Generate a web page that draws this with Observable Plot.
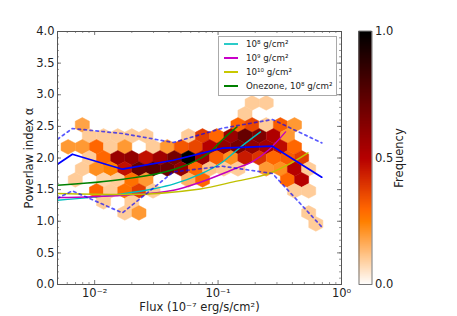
<!DOCTYPE html>
<html>
<head>
<meta charset="utf-8">
<script src="https://cdn.jsdelivr.net/npm/d3@7"></script>
<script src="https://cdn.jsdelivr.net/npm/@observablehq/plot@0.6"></script>
<style>
html,body{margin:0;padding:0;background:#fff;}
#wrap{position:relative;width:457px;height:316px;overflow:hidden;font-family:"DejaVu Sans",sans-serif;color:#222;}
#wrap svg{display:block;background:transparent;}
#bar{position:absolute;left:358px;top:0;}
#legend{position:absolute;left:218px;top:36px;width:117px;height:58px;background:#fff;border:1px solid #aaa;font-size:8.7px;}
#legend .row{position:absolute;left:0;right:0;height:12px;white-space:nowrap;}
#legend .swatch{position:absolute;left:5px;top:5px;width:14px;height:2px;}
#legend .lab{position:absolute;left:27px;top:0;line-height:12px;}
</style>
</head>
<body>
<div id="wrap"></div>
<script>
// Hexbin rows: alpha of each row, log10(flux) of each cell, normalised frequency of each cell
const hexAlpha = [2.871, 2.697, 2.523, 2.349, 2.176, 2.002, 1.828, 1.654, 1.480, 1.306, 1.132, 0.958];
const hexLogFlux = [
  [-0.724, -0.610],
  [-0.782],
  [-2.100, -0.839, -0.724, -0.610, -0.495, -0.381],
  [-2.043, -1.928, -1.813, -1.699, -1.584, -1.240, -1.126, -1.011, -0.896, -0.782, -0.667, -0.552, -0.438],
  [-2.215, -2.100, -1.985, -1.871, -1.756, -1.527, -1.412, -1.298, -1.183, -1.068, -0.954, -0.839, -0.724, -0.610, -0.495, -0.381],
  [-2.043, -1.928, -1.813, -1.699, -1.584, -1.470, -1.355, -1.240, -1.126, -1.011, -0.896, -0.782, -0.667, -0.552, -0.438, -0.323],
  [-2.100, -1.985, -1.871, -1.756, -1.641, -1.527, -1.412, -1.298, -1.183, -1.068, -0.954, -0.839, -0.610, -0.495, -0.381, -0.266],
  [-2.157, -1.928, -1.813, -1.699, -1.584, -1.240, -1.126, -0.438, -0.323],
  [-1.985, -1.871, -1.756, -1.641, -1.527, -0.381, -0.266],
  [-1.928, -1.699],
  [-1.756, -1.641, -0.266],
  [-0.208]
];
const hexFreq = [
  [.1, .1],
  [.1],
  [.18, .3, .36, .1, .32, .2],
  [.1, .1, .1, .1, .1, .1, .38, .3, .58, .72, .65, .52, .2],
  [.2, .2, .3, .1, .2, .1, .2, .33, .36, .5, .6, .68, .6, .55, .48, .3],
  [.1, .3, .58, .6, .47, .56, .68, 1.0, .58, .32, .22, .45, .4, .3, .32, .38],
  [.1, .22, .25, .47, .72, .75, .7, .6, .3, .12, .1, .1, .2, .22, .5, .1],
  [.1, .08, .1, .28, .2, .15, .3, .3, .5],
  [.3, .1, .28, .38, .1, .1, .1],
  [.1, .1],
  [.1, .2, .1],
  [.1]
];

// Median and spread of the observed burst tracks
const trackFlux = [0.005, 0.0066, 0.0168, 0.0434, 0.1084, 0.276, 0.692];
const medianAlpha = [1.902, 2.060, 1.823, 1.965, 2.155, 2.187, 1.696];
const upperAlpha = [2.297, 2.466, 2.387, 2.245, 2.471, 2.609, 2.239];
const lowerAlpha = [1.364, 1.480, 1.132, 1.780, 1.870, 1.755, 0.911];

// Model curves
const cyanFlux = [0.005, 0.0161, 0.0309, 0.0434, 0.0718, 0.1045, 0.1517, 0.2208];
const cyanAlpha = [1.333, 1.428, 1.518, 1.586, 1.744, 1.913, 2.171, 2.413];
const magentaFlux = [0.005, 0.0170, 0.0436, 0.0718, 0.1383, 0.1888, 0.2564, 0.3524];
const magentaAlpha = [1.375, 1.412, 1.491, 1.617, 1.834, 1.939, 2.125, 2.413];
const yellowFlux = [0.005, 0.0170, 0.0718, 0.1331, 0.2661, 0.3639, 0.5358];
const yellowAlpha = [1.439, 1.423, 1.510, 1.622, 1.764, 1.886, 2.081];
const greenFlux = [0.005, 0.0170, 0.0436, 0.0718, 0.0865, 0.1109, 0.1425];
const greenAlpha = [1.570, 1.665, 1.818, 1.992, 2.096, 2.308, 2.492];

const legendLabels = ["10⁸ g/cm²", "10⁹ g/cm²", "10¹⁰ g/cm²", "Onezone, 10⁸ g/cm²"];
const legendColors = ["#2bcbc8", "#c800c8", "#c8c800", "#008000"];
const legendRows = [1, 15, 29, 43];

const xMajor = [0.01, 0.1, 1];
const xMajorLabels = ["10⁻²", "10⁻¹", "10⁰"];
const xMinor = [0.006, 0.007, 0.008, 0.009, 0.02, 0.03, 0.04, 0.05, 0.06, 0.07, 0.08, 0.09, 0.2, 0.3, 0.4, 0.5, 0.6, 0.7, 0.8, 0.9];
const yMajor = [0, 0.5, 1, 1.5, 2, 2.5, 3, 3.5, 4];
const yMinor = d3.range(0, 40).map(d => d / 10);
const barTicks = [0, 0.5, 1];

// gist_heat reversed
function heat(v) {
  const t = 1 - v;
  const r = Math.min(1, t / 0.7), g = Math.max(0, 2 * t - 1), b = Math.max(0, 4 * t - 3);
  return d3.rgb(r * 255, g * 255, b * 255).formatHex();
}

const hexes = hexAlpha.flatMap((alpha, i) =>
  hexLogFlux[i].map((lx, j) => ({flux: Math.pow(10, lx), alpha, freq: hexFreq[i][j]})));

const hexSymbol = {
  draw(ctx, size) {
    const rx = Math.sqrt(size / Math.PI), ry = rx * 1.04, hy = ry / 2;
    ctx.moveTo(0, ry); ctx.lineTo(rx, hy); ctx.lineTo(rx, -hy);
    ctx.lineTo(0, -ry); ctx.lineTo(-rx, -hy); ctx.lineTo(-rx, hy); ctx.closePath();
  }
};

const zip = (xs, ys) => xs.map((x, i) => ({x, y: ys[i]}));
const line = (xs, ys, o) => Plot.line(zip(xs, ys), {x: "x", y: "y", clip: true, ...o});
const W = 284, H = 253, ink = "#555";
const textStyle = {fontFamily: "DejaVu Sans", fontSize: "11.5px", color: "#222", background: "transparent"};

const main = Plot.plot({
  width: 457, height: 316,
  marginLeft: 57, marginRight: 116, marginTop: 31, marginBottom: 32,
  style: textStyle,
  x: {type: "log", domain: [0.005, 1]},
  y: {domain: [0, 4]},
  color: {type: "linear", domain: [0, 1], interpolate: heat},
  marks: [
    Plot.dot(hexes, {x: "flux", y: "alpha", r: 7.05, symbol: hexSymbol, fill: "freq", stroke: "freq", strokeWidth: 0.5}),
    line(cyanFlux, cyanAlpha, {stroke: "#00c0c0", strokeWidth: 1.4, curve: "monotone-x"}),
    line(magentaFlux, magentaAlpha, {stroke: "#c000c0", strokeWidth: 1.4, curve: "monotone-x"}),
    line(yellowFlux, yellowAlpha, {stroke: "#c0c000", strokeWidth: 1.4, curve: "monotone-x"}),
    line(greenFlux, greenAlpha, {stroke: "#008000", strokeWidth: 1.4, curve: "monotone-x"}),
    line(trackFlux, medianAlpha, {stroke: "#0000ff", strokeWidth: 1.7}),
    line(trackFlux, upperAlpha, {stroke: "#0000ff", strokeOpacity: 0.65, strokeWidth: 1.7, strokeDasharray: "2.5,3.5"}),
    line(trackFlux, lowerAlpha, {stroke: "#0000ff", strokeOpacity: 0.65, strokeWidth: 1.7, strokeDasharray: "2.5,3.5"}),
    Plot.ruleY(yMinor, {y: d => d, stroke: ink, strokeWidth: 0.6, insetRight: W - 2}),
    Plot.ruleY(yMinor, {y: d => d, stroke: ink, strokeWidth: 0.6, insetLeft: W - 2}),
    Plot.ruleY(yMajor, {y: d => d, stroke: ink, strokeWidth: 0.8, insetRight: W - 4}),
    Plot.ruleY(yMajor, {y: d => d, stroke: ink, strokeWidth: 0.8, insetLeft: W - 4}),
    Plot.ruleX(xMinor, {x: d => d, stroke: ink, strokeWidth: 0.6, insetTop: H - 2}),
    Plot.ruleX(xMinor, {x: d => d, stroke: ink, strokeWidth: 0.6, insetBottom: H - 2}),
    Plot.ruleX(xMajor, {x: d => d, stroke: ink, strokeWidth: 0.8, insetTop: H - 4}),
    Plot.ruleX(xMajor, {x: d => d, stroke: ink, strokeWidth: 0.8, insetBottom: H - 4}),
    Plot.frame({stroke: ink, strokeWidth: 1}),
    Plot.axisX({ticks: xMajor, tickSize: 0, tickPadding: 4, tickFormat: d => xMajorLabels[xMajor.indexOf(d)],
      label: "Flux (10⁻⁷ erg/s/cm²)", labelAnchor: "center", labelArrow: "none", labelOffset: 26}),
    Plot.axisY({ticks: yMajor, tickSize: 0, tickPadding: 3, tickFormat: d3.format(".1f"),
      label: "Powerlaw index α", labelAnchor: "center", labelArrow: "none", labelOffset: 33})
  ]
});

const bar = Plot.plot({
  width: 99, height: 316,
  marginLeft: 0.5, marginRight: 85.5, marginTop: 31, marginBottom: 32,
  style: textStyle,
  y: {domain: [0, 1]},
  color: {type: "linear", domain: [0, 1], interpolate: heat},
  marks: [
    Plot.ruleY(d3.range(0, 1.0001, 1 / 253), {y: d => d, stroke: d => d, strokeWidth: 1.5}),
    Plot.frame({stroke: ink, strokeWidth: 0.8}),
    Plot.axisY({anchor: "right", ticks: barTicks, tickSize: 0, tickPadding: 3, tickFormat: d3.format(".1f"),
      label: "Frequency", labelAnchor: "center", labelArrow: "none", labelOffset: 31})
  ]
});
bar.id = "bar";

const wrap = document.getElementById("wrap");
wrap.append(main, bar);

const legend = document.createElement("div");
legend.id = "legend";
legendLabels.forEach((t, i) => {
  const row = document.createElement("div");
  row.className = "row";
  row.style.top = legendRows[i] + "px";
  const sw = document.createElement("div");
  sw.className = "swatch";
  sw.style.background = legendColors[i];
  const lab = document.createElement("div");
  lab.className = "lab";
  lab.textContent = t;
  row.append(sw, lab);
  legend.append(row);
});
wrap.append(legend);
</script>
</body>
</html>
